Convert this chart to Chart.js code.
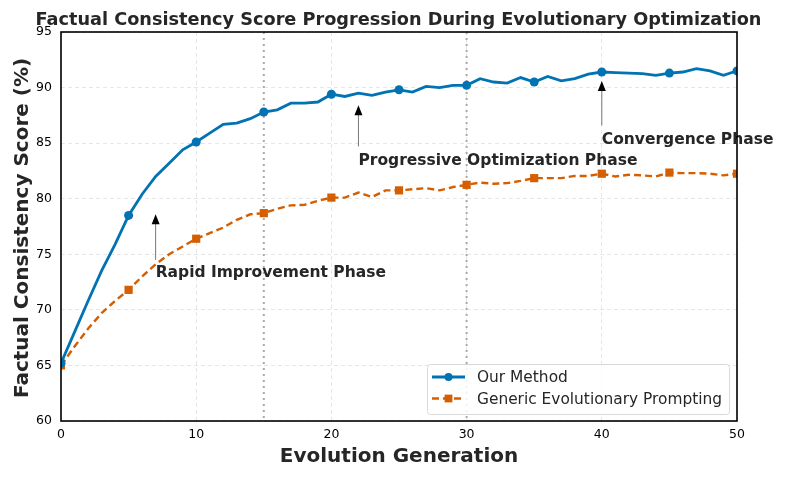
<!DOCTYPE html>
<html>
<head>
<meta charset="utf-8">
<script src="https://cdn.jsdelivr.net/npm/chart.js@4.4.0/dist/chart.umd.min.js"></script>
<style>
    html, body { margin: 0; padding: 0; background: #fff; }
    #wrap { width: 797px; height: 478px; }
</style>
</head>
<body>
<div id="wrap"><canvas id="chart"></canvas></div>
<script>
const generations = [0, 1, 2, 3, 4, 5, 6, 7, 8, 9, 10, 11, 12, 13, 14, 15, 16, 17, 18, 19, 20,
    21, 22, 23, 24, 25, 26, 27, 28, 29, 30, 31, 32, 33, 34, 35, 36, 37, 38, 39, 40,
    41, 42, 43, 44, 45, 46, 47, 48, 49, 50];
const ourMethod = [65.2, 68.0, 70.8, 73.5, 75.9, 78.5, 80.4, 82.0, 83.2, 84.4, 85.1,
    85.9, 86.7, 86.8, 87.2, 87.8, 88.0, 88.6, 88.6, 88.7, 89.4,
    89.2, 89.5, 89.3, 89.6, 89.8, 89.6, 90.1, 90.0, 90.2, 90.2,
    90.8, 90.5, 90.4, 90.9, 90.5, 91.0, 90.6, 90.8, 91.2, 91.4,
    91.35, 91.3, 91.25, 91.1, 91.3, 91.4, 91.7, 91.5, 91.1, 91.5];
const genericPrompting = [65.0, 66.7, 68.3, 69.7, 70.8, 71.8, 73.0, 74.1, 75.0, 75.7, 76.4,
    76.9, 77.4, 78.1, 78.6, 78.7, 79.1, 79.4, 79.45, 79.8, 80.1,
    80.1, 80.55, 80.15, 80.75, 80.75, 80.85, 80.95, 80.75, 81.05, 81.25,
    81.45, 81.35, 81.4, 81.6, 81.85, 81.85, 81.85, 82.05, 82.05, 82.25,
    82.0, 82.15, 82.1, 82.0, 82.35, 82.3, 82.3, 82.25, 82.1, 82.25];
const seriesNames = ['Our Method', 'Generic Evolutionary Prompting'];
const phaseBoundaries = [15, 30];
const phaseLabels = ['Rapid Improvement Phase', 'Progressive Optimization Phase', 'Convergence Phase'];
const phaseX = [7, 22, 40];
const phaseTipY = [78.6, 88.4, 90.6];
const phaseTailY = [74.5, 84.7, 86.6];
const phaseTextY = [73.0, 83.0, 84.9];

const BLUE = '#0173B2';
const ORANGE = '#D55E00';
const FONT = '"DejaVu Sans", sans-serif';

const points = vals => vals.map((v, i) => ({ x: generations[i], y: v }));
const markerAt = r => ctx => (ctx.dataIndex % 5 === 0 ? r : 0);

const decorPlugin = {
    id: 'decor',
    beforeDatasetsDraw(chart) {
        const { ctx, chartArea: a, scales: { x } } = chart;
        ctx.save();
        ctx.strokeStyle = '#aaaaaa';
        ctx.lineWidth = 2;
        ctx.setLineDash([2, 4]);
        phaseBoundaries.forEach(b => {
            const px = x.getPixelForValue(b);
            ctx.beginPath();
            ctx.moveTo(px, a.top);
            ctx.lineTo(px, a.bottom);
            ctx.stroke();
        });
        ctx.restore();
    },
    afterDraw(chart) {
        const { ctx, chartArea: a, scales: { x, y } } = chart;
        ctx.save();

        // phase annotations
        phaseLabels.forEach((label, i) => {
            const px = x.getPixelForValue(phaseX[i]);
            const tip = y.getPixelForValue(phaseTipY[i]);
            const tail = y.getPixelForValue(phaseTailY[i]);
            ctx.strokeStyle = '#777';
            ctx.lineWidth = 1;
            ctx.beginPath();
            ctx.moveTo(px, tail);
            ctx.lineTo(px, tip + 8);
            ctx.stroke();
            ctx.fillStyle = '#000';
            ctx.beginPath();
            ctx.moveTo(px, tip);
            ctx.lineTo(px - 4, tip + 10);
            ctx.lineTo(px + 4, tip + 10);
            ctx.closePath();
            ctx.fill();
            ctx.fillStyle = '#262626';
            ctx.font = 'bold 15.5px ' + FONT;
            ctx.textAlign = 'left';
            ctx.textBaseline = 'alphabetic';
            ctx.fillText(label, px, y.getPixelForValue(phaseTextY[i]));
        });

        // legend
        const lx = 427, ly = 364, lw = 302, lh = 50;
        ctx.fillStyle = 'rgba(255,255,255,0.85)';
        ctx.strokeStyle = '#d9d9d9';
        ctx.lineWidth = 1;
        ctx.beginPath();
        ctx.roundRect(lx + 0.5, ly + 0.5, lw, lh, 3);
        ctx.fill();
        ctx.stroke();
        chart.data.datasets.forEach((ds, i) => {
            const cy = ly + 13 + i * 21.5;
            ctx.strokeStyle = ds.borderColor;
            ctx.lineWidth = ds.borderWidth;
            ctx.setLineDash(ds.borderDash || []);
            ctx.beginPath();
            ctx.moveTo(lx + 5, cy);
            ctx.lineTo(lx + 38, cy);
            ctx.stroke();
            ctx.setLineDash([]);
            ctx.fillStyle = ds.borderColor;
            Chart.helpers.drawPoint(ctx, { pointStyle: ds.pointStyle, radius: i === 0 ? 4 : 5.5, borderWidth: 0 }, lx + 21.5, cy);
            ctx.fillStyle = '#262626';
            ctx.font = '15.4px ' + FONT;
            ctx.textBaseline = 'middle';
            ctx.fillText(ds.label, lx + 50, cy + 1);
        });

        // frame
        ctx.strokeStyle = '#000';
        ctx.lineWidth = 1.6;
        ctx.strokeRect(a.left, a.top, a.right - a.left, a.bottom - a.top);

        // titles
        ctx.fillStyle = '#262626';
        ctx.textAlign = 'center';
        ctx.textBaseline = 'alphabetic';
        ctx.font = 'bold 17.7px ' + FONT;
        ctx.fillText('Factual Consistency Score Progression During Evolutionary Optimization', 398.5, 25);
        ctx.font = 'bold 20px ' + FONT;
        ctx.fillText('Evolution Generation', (a.left + a.right) / 2, 462);
        ctx.translate(28, 228);
        ctx.rotate(-Math.PI / 2);
        ctx.fillText('Factual Consistency Score (%)', 0, 0);
        ctx.restore();
    }
};

new Chart(document.getElementById('chart'), {
    type: 'line',
    data: {
        datasets: [{
            label: seriesNames[0],
            data: points(ourMethod),
            borderColor: BLUE,
            backgroundColor: BLUE,
            borderWidth: 2.8,
            pointStyle: 'circle',
            pointRadius: markerAt(4.5),
            pointBorderWidth: 0,
            tension: 0
        }, {
            label: seriesNames[1],
            data: points(genericPrompting),
            borderColor: ORANGE,
            backgroundColor: ORANGE,
            borderWidth: 2.4,
            borderDash: [7, 4],
            pointStyle: 'rect',
            pointRadius: markerAt(5.8),
            pointBorderWidth: 0,
            tension: 0
        }]
    },
    options: {
        responsive: true,
        maintainAspectRatio: false,
        animation: false,
        devicePixelRatio: 1,
        layout: { padding: { top: 32, right: 60, left: 0, bottom: 0 } },
        plugins: { legend: { display: false }, tooltip: { enabled: false } },
        scales: {
            x: {
                type: 'linear',
                min: 0, max: 50,
                afterFit: s => { s.height = 57; },
                ticks: { stepSize: 10, color: '#000', font: { family: FONT, size: 12.5 }, padding: 6 },
                grid: { color: '#e6e6e6', lineWidth: 1, tickLength: 0 },
                border: { display: false, dash: [4, 3] }
            },
            y: {
                min: 60, max: 95,
                afterFit: s => { s.width = 61; },
                ticks: { stepSize: 5, color: '#000', font: { family: FONT, size: 12.5 }, padding: 9 },
                grid: { color: '#e6e6e6', lineWidth: 1, tickLength: 0 },
                border: { display: false, dash: [4, 3] }
            }
        }
    },
    plugins: [decorPlugin]
});
</script>
</body>
</html>
